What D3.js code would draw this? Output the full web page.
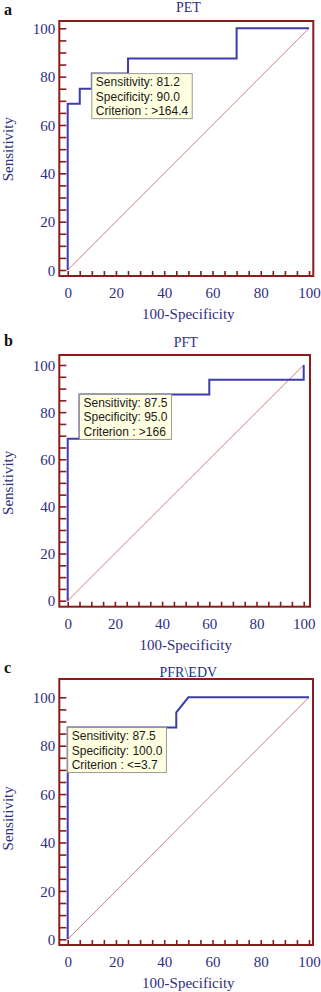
<!DOCTYPE html>
<html>
<head>
<meta charset="utf-8">
<script src="https://cdn.jsdelivr.net/npm/d3@7"></script>
<style>
  html, body { margin: 0; padding: 0; background: #fff; }
  svg { display: block; }
</style>
</head>
<body>
<svg id="chart" width="321" height="992"></svg>
<script>
(function() {

// ROC points: 100-Specificity (x) and Sensitivity (y)
const petFpr  = [0, 0, 5, 5, 10, 10, 25, 25, 70, 70, 100];
const petSens = [0, 68.75, 68.75, 75, 75, 81.25, 81.25, 87.5, 87.5, 100, 100];

const pftFpr  = [0, 0, 5, 5, 60, 60, 100, 100];
const pftSens = [0, 68.75, 68.75, 87.5, 87.5, 93.75, 93.75, 100];

const pfrFpr  = [0, 0, 45, 45, 50, 100];
const pfrSens = [0, 87.5, 87.5, 93.75, 100, 100];

// criterion point shown in the yellow box
const cutFpr  = [10, 5, 0];
const cutSens = [81.25, 87.5, 87.5];
const boxLines = [
    ["Sensitivity: 81.2", "Specificity: 90.0", "Criterion : >164.4"],
    ["Sensitivity: 87.5", "Specificity: 95.0", "Criterion : >166"],
    ["Sensitivity: 87.5", "Specificity: 100.0", "Criterion : <=3.7"]
];

const panelLetters = ["a", "b", "c"];
const panelTitles = ["PET", "PFT", "PFR\\EDV"];
const labelTicks = [0, 20, 40, 60, 80, 100];
const minorTicks = d3.range(0, 101, 5);
const xTitle = "100-Specificity";
const yTitle = "Sensitivity";

const curves = [
    { fpr: petFpr, sens: petSens },
    { fpr: pftFpr, sens: pftSens },
    { fpr: pfrFpr, sens: pfrSens }
];

// pixel layout of each panel
const layouts = [
    { x0: 67.7, x1: 309, y0: 270, y1: 28.3, fl: 59.3, fr: 313.3, ft: 21, fb: 276, titleY: 12, letterY: 15 },
    { x0: 67.7, x1: 303.7, y0: 600.7, y1: 365, fl: 59.3, fr: 310, ft: 355, fb: 606.7, titleY: 347, letterY: 346 },
    { x0: 67.7, x1: 309, y0: 939.3, y1: 697.3, fl: 59.3, fr: 313, ft: 679, fb: 945, titleY: 677, letterY: 673 }
];

const textColor = "#2e2e80";
const frameColor = "#8a1c1c";
const rocColor = "#3c3caa";
const diagColor = "#c87070";
const serif = "'Liberation Serif', 'Times New Roman', serif";
const sans = "'Liberation Sans', Arial, sans-serif";

const svg = d3.select("#chart");

layouts.forEach((L, i) => {
    const g = svg.append("g");

    const x = d3.scaleLinear().domain([0, 100]).range([L.x0, L.x1]);
    const y = d3.scaleLinear().domain([0, 100]).range([L.y0, L.y1]);

    // panel letter
    g.append("text")
        .attr("x", 4)
        .attr("y", L.letterY)
        .attr("font-family", serif)
        .attr("font-weight", "bold")
        .attr("font-size", "16px")
        .attr("fill", "#111")
        .text(panelLetters[i]);

    // title
    g.append("text")
        .attr("x", (L.x0 + L.x1) / 2)
        .attr("y", L.titleY)
        .attr("text-anchor", "middle")
        .attr("font-family", serif)
        .attr("font-size", "14px")
        .attr("fill", textColor)
        .text(panelTitles[i]);

    // diagonal reference
    g.append("path")
        .attr("d", d3.line()([[x(0), y(0)], [x(100), y(100)]]))
        .attr("fill", "none")
        .attr("stroke", diagColor)
        .attr("stroke-width", 0.9);

    // ROC curve
    const c = curves[i];
    const pts = c.fpr.map((v, k) => [v, c.sens[k]]);
    g.append("path")
        .attr("d", d3.line().x(d => x(d[0])).y(d => y(d[1]))(pts))
        .attr("fill", "none")
        .attr("stroke", rocColor)
        .attr("stroke-width", 2);

    // frame
    g.append("rect")
        .attr("x", L.fl)
        .attr("y", L.ft)
        .attr("width", L.fr - L.fl)
        .attr("height", L.fb - L.ft)
        .attr("fill", "none")
        .attr("stroke", frameColor)
        .attr("stroke-width", 2);

    // inward ticks on left and bottom
    const yTicks = g.append("g")
        .attr("transform", `translate(${L.fl},0)`)
        .call(d3.axisLeft(y).tickValues(minorTicks).tickSize(-7).tickFormat(""));
    const xTicks = g.append("g")
        .attr("transform", `translate(0,${L.fb})`)
        .call(d3.axisBottom(x).tickValues(minorTicks).tickSize(-5).tickFormat(""));
    [yTicks, xTicks].forEach(a => {
        a.select(".domain").remove();
        a.selectAll("line").attr("stroke", frameColor).attr("stroke-width", 1.6);
    });

    // tick labels
    const yLab = g.append("g")
        .attr("transform", `translate(${L.fl - 4},0)`)
        .call(d3.axisLeft(y).tickValues(labelTicks).tickSize(0).tickPadding(0));
    const xLab = g.append("g")
        .attr("transform", `translate(0,${L.fb + 10})`)
        .call(d3.axisBottom(x).tickValues(labelTicks).tickSize(0).tickPadding(0));
    [yLab, xLab].forEach(a => {
        a.select(".domain").remove();
        a.selectAll("text")
            .attr("font-family", serif)
            .attr("font-size", "15px")
            .attr("fill", textColor);
    });
    yLab.selectAll("text").attr("dy", "0.35em");
    xLab.selectAll("text").attr("dy", "0.8em");

    // axis titles
    g.append("text")
        .attr("x", (L.x0 + L.x1) / 2)
        .attr("y", L.fb + 43)
        .attr("text-anchor", "middle")
        .attr("font-family", serif)
        .attr("font-size", "15px")
        .attr("fill", textColor)
        .text(xTitle);

    g.append("text")
        .attr("transform", `translate(13,${(L.y0 + L.y1) / 2}) rotate(-90)`)
        .attr("text-anchor", "middle")
        .attr("font-family", serif)
        .attr("font-size", "15px")
        .attr("fill", textColor)
        .text(yTitle);

    // criterion box, anchored at the cut-off point
    const bx = x(cutFpr[i]);
    const by = y(cutSens[i]);
    const box = g.append("g").attr("transform", `translate(${bx},${by})`);
    const rect = box.append("rect")
        .attr("fill", "#ffffe1")
        .attr("stroke", "#9a9a90")
        .attr("stroke-width", 1);
    const texts = box.selectAll("text")
        .data(boxLines[i])
        .join("text")
        .attr("x", 4)
        .attr("y", (d, k) => 12.5 + k * 14.5)
        .attr("font-family", sans)
        .attr("font-size", "12px")
        .attr("fill", "#1a1a1a")
        .text(d => d);
    const w = d3.max(texts.nodes(), n => n.getComputedTextLength());
    rect.attr("width", w + 8).attr("height", 45);
});

})();
</script>
</body>
</html>
